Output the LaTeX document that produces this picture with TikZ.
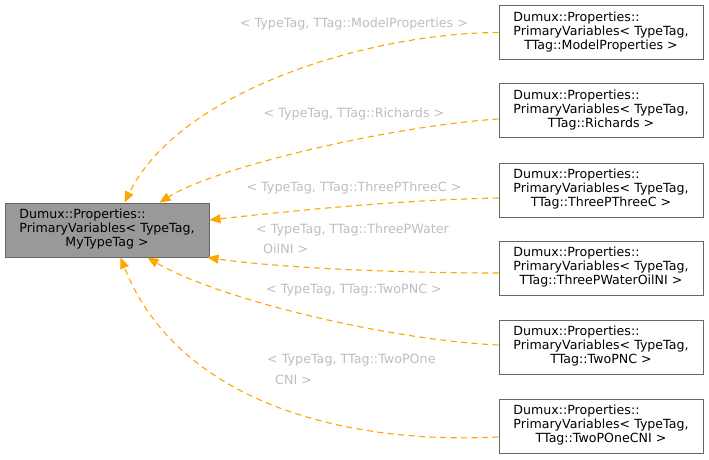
\documentclass[tikz,border=0pt]{standalone}
\usepackage{fontspec}
\setmainfont{DejaVu Sans}
\usetikzlibrary{arrows.meta,calc}
\definecolor{edgeor}{HTML}{FFA500}
\definecolor{boxborder}{HTML}{666666}
\definecolor{boxgray}{HTML}{999999}
\definecolor{lblgray}{RGB}{190,190,190}
\tikzset{
  cls/.style={draw=boxborder, line width=1pt, minimum width=204pt, minimum height=54pt, inner sep=0pt, font=\fontsize{12.6}{14}\selectfont},
  basecls/.style={cls, fill=boxgray},
  dercls/.style={cls, fill=white},
  inh/.style={draw=edgeor, line width=1.1pt, dash pattern=on 6pt off 4.5pt, -{Triangle[length=11pt,width=9pt,fill=edgeor]}},
  lbl/.style={text=lblgray, inner sep=0pt, font=\fontsize{12.7}{14}\selectfont}
}
\newcommand{\clstext}[1]{\begin{tabular}{@{}l@{}}Dumux::Properties::\\PrimaryVariables< TypeTag,\\\multicolumn{1}{@{}c@{}}{#1}\end{tabular}}
\begin{document}
\begin{tikzpicture}[x=1pt,y=-1pt]
\useasboundingbox (0,0) rectangle (709,459);
\node[basecls] (L) at (107,230) {\clstext{MyTypeTag >}};
\node[dercls] (r1) at (601,32.5) {\clstext{TTag::ModelProperties >}};
\node[dercls] (r2) at (601,110.5) {\clstext{TTag::Richards >}};
\node[dercls] (r3) at (601,190) {\clstext{TTag::ThreePThreeC >}};
\node[dercls] (r4) at (601,268) {\clstext{TTag::ThreePWaterOilNI >}};
\node[dercls] (r5) at (601,347) {\clstext{TTag::TwoPNC >}};
\node[dercls] (r6) at (601,426) {\clstext{TTag::TwoPOneCNI >}};

\draw[inh] (r1.west) .. controls (370,33) and (180,90) .. ($(L.north west)+(120,0)$);
\draw[inh] ($(r2.west)+(0,8.5)$) .. controls (400,125) and (220,165) .. ($(L.north west)+(155,0)$);
\draw[inh] ($(r3.west)+(0,8)$) .. controls (400,200) and (300,210) .. ($(L.east)+(0,-10)$);
\draw[inh] ($(r4.west)+(0,5)$) .. controls (400,273) and (280,268) .. ($(L.south east)+(-2,0)$);
\draw[inh] ($(r5.west)+(0,-2)$) .. controls (390,340) and (220,300) .. ($(L.south west)+(143,0)$);
\draw[inh] ($(r6.west)+(0,11)$) .. controls (330,445) and (175,395) .. ($(L.south west)+(116,0)$);

\node[lbl] (l1) at (354,24) {< TypeTag, TTag::ModelProperties >};
\node[lbl] (l2) at (354,114) {< TypeTag, TTag::Richards >};
\node[lbl] (l3) at (354,188) {< TypeTag, TTag::ThreePThreeC >};
\node[lbl, anchor=west] (l4a) at (256,230) {< TypeTag, TTag::ThreePWater};
\node[lbl, anchor=west] (l4b) at (263,249) {OilNI >};
\node[lbl] (l5) at (354,290) {< TypeTag, TTag::TwoPNC >};
\node[lbl, anchor=west] (l6a) at (267,360) {< TypeTag, TTag::TwoPOne};
\node[lbl, anchor=west] (l6b) at (275,380) {CNI >};
\end{tikzpicture}
\end{document}
